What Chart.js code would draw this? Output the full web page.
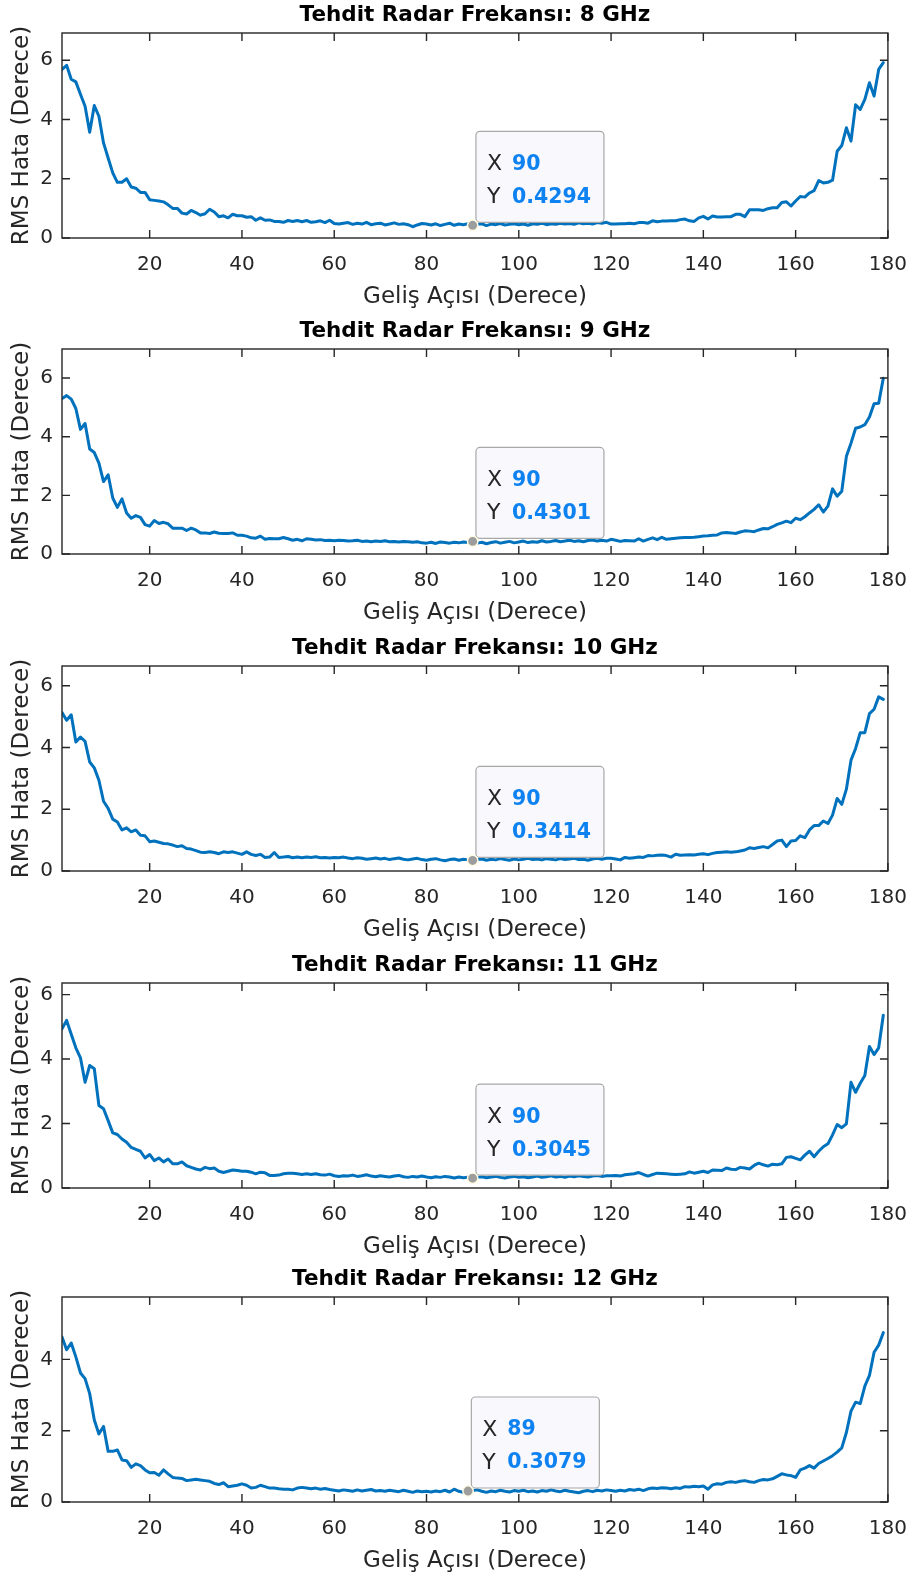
<!DOCTYPE html>
<html>
<head>
<meta charset="utf-8">
<script src="https://cdn.jsdelivr.net/npm/chart.js@4.4.1/dist/chart.umd.min.js"></script>
<style>
html,body{margin:0;padding:0;background:#fff;width:922px;height:1577px;overflow:hidden;}
.wrap{position:absolute;left:0;width:922px;height:316px;}
canvas{display:block;}
</style>
</head>
<body>
<div class="wrap" style="top:0px"><canvas id="c0" width="922" height="316"></canvas></div>
<div class="wrap" style="top:316px"><canvas id="c1" width="922" height="316"></canvas></div>
<div class="wrap" style="top:633px"><canvas id="c2" width="922" height="316"></canvas></div>
<div class="wrap" style="top:950px"><canvas id="c3" width="922" height="316"></canvas></div>
<div class="wrap" style="top:1264px"><canvas id="c4" width="922" height="316"></canvas></div>
<script>
// ---------------- DATA ----------------
const angles = Array.from({length:179}, (_, i) => i + 1); // Geliş açısı 1..179 derece

const rms8 = [
5.69,5.83,5.36,5.27,4.85,4.45,3.57,4.47,4.11,3.21,
2.70,2.20,1.88,1.88,2.00,1.72,1.68,1.54,1.54,1.29,
1.27,1.25,1.22,1.12,1.00,1.00,0.84,0.81,0.93,0.86,
0.77,0.82,0.97,0.88,0.72,0.75,0.68,0.80,0.75,0.75,
0.70,0.72,0.60,0.68,0.60,0.61,0.56,0.56,0.53,0.59,
0.56,0.59,0.55,0.59,0.53,0.55,0.58,0.52,0.60,0.49,
0.47,0.50,0.52,0.46,0.50,0.47,0.53,0.45,0.48,0.50,
0.44,0.47,0.51,0.46,0.48,0.45,0.38,0.44,0.49,0.47,
0.44,0.48,0.42,0.46,0.50,0.43,0.47,0.45,0.48,0.4294,
0.46,0.48,0.42,0.47,0.45,0.49,0.44,0.46,0.48,0.45,
0.47,0.43,0.48,0.46,0.50,0.45,0.48,0.46,0.50,0.47,
0.49,0.46,0.51,0.48,0.50,0.47,0.52,0.50,0.53,0.47,
0.47,0.48,0.48,0.50,0.48,0.52,0.52,0.50,0.58,0.55,
0.57,0.57,0.58,0.58,0.62,0.64,0.58,0.56,0.68,0.73,
0.64,0.74,0.71,0.71,0.72,0.72,0.80,0.80,0.72,0.95,
0.95,0.95,0.93,0.99,1.02,1.02,1.20,1.22,1.08,1.25,
1.40,1.38,1.52,1.60,1.94,1.86,1.88,1.95,2.93,3.12,
3.72,3.27,4.50,4.34,4.68,5.24,4.79,5.69,5.92];

const rms9 = [
5.30,5.40,5.28,4.96,4.25,4.45,3.58,3.46,3.10,2.47,
2.70,1.91,1.59,1.88,1.40,1.22,1.31,1.25,1.00,0.95,
1.14,1.04,1.08,1.03,0.88,0.88,0.88,0.80,0.88,0.82,
0.72,0.72,0.70,0.75,0.71,0.70,0.70,0.72,0.64,0.64,
0.61,0.55,0.54,0.61,0.50,0.53,0.52,0.52,0.56,0.52,
0.47,0.50,0.45,0.52,0.50,0.48,0.49,0.46,0.47,0.45,
0.47,0.46,0.44,0.45,0.47,0.43,0.44,0.42,0.44,0.43,
0.45,0.42,0.43,0.41,0.43,0.42,0.40,0.42,0.38,0.37,
0.40,0.36,0.41,0.39,0.37,0.40,0.38,0.41,0.39,0.4301,
0.37,0.40,0.35,0.39,0.42,0.37,0.40,0.43,0.38,0.41,
0.44,0.39,0.42,0.40,0.45,0.41,0.43,0.46,0.42,0.44,
0.47,0.43,0.45,0.42,0.46,0.48,0.44,0.47,0.44,0.50,
0.47,0.43,0.46,0.45,0.44,0.52,0.44,0.50,0.55,0.49,
0.57,0.50,0.52,0.54,0.55,0.56,0.56,0.57,0.59,0.61,
0.62,0.64,0.65,0.72,0.73,0.72,0.70,0.75,0.79,0.78,
0.76,0.82,0.87,0.86,0.93,1.01,1.06,1.12,1.07,1.22,
1.17,1.27,1.40,1.52,1.68,1.43,1.63,2.22,1.97,2.14,
3.33,3.78,4.29,4.33,4.41,4.67,5.12,5.14,5.99];

const rms10 = [
5.13,4.88,5.06,4.18,4.34,4.20,3.53,3.34,2.94,2.26,
2.03,1.68,1.59,1.33,1.40,1.27,1.33,1.16,1.14,0.95,
0.97,0.93,0.89,0.88,0.84,0.79,0.82,0.73,0.71,0.66,
0.61,0.60,0.62,0.60,0.56,0.62,0.60,0.62,0.58,0.54,
0.62,0.54,0.50,0.54,0.44,0.45,0.60,0.44,0.45,0.47,
0.43,0.45,0.43,0.45,0.44,0.46,0.43,0.44,0.42,0.44,
0.43,0.45,0.42,0.40,0.43,0.41,0.38,0.40,0.42,0.39,
0.41,0.37,0.40,0.42,0.38,0.36,0.39,0.41,0.37,0.35,
0.38,0.40,0.36,0.33,0.37,0.39,0.35,0.38,0.36,0.3414,
0.37,0.39,0.35,0.38,0.36,0.40,0.37,0.35,0.39,0.36,
0.38,0.41,0.37,0.39,0.36,0.40,0.38,0.36,0.40,0.37,
0.39,0.41,0.37,0.38,0.35,0.39,0.41,0.38,0.41,0.41,
0.39,0.36,0.44,0.41,0.43,0.45,0.44,0.50,0.49,0.51,
0.52,0.50,0.45,0.54,0.51,0.52,0.53,0.52,0.54,0.56,
0.53,0.57,0.60,0.61,0.62,0.61,0.62,0.65,0.68,0.75,
0.73,0.76,0.79,0.75,0.86,0.97,1.00,0.79,0.97,0.99,
1.14,1.08,1.33,1.47,1.47,1.62,1.54,1.81,2.35,2.16,
2.65,3.59,3.97,4.48,4.48,5.10,5.24,5.64,5.56];

const rms11 = [
4.94,5.20,4.77,4.35,4.04,3.28,3.80,3.70,2.56,2.46,
2.09,1.71,1.66,1.52,1.42,1.26,1.20,1.14,0.93,1.04,
0.85,0.93,0.81,0.90,0.75,0.75,0.81,0.69,0.64,0.59,
0.56,0.64,0.60,0.62,0.52,0.48,0.52,0.56,0.54,0.52,
0.52,0.49,0.44,0.49,0.47,0.39,0.39,0.40,0.44,0.46,
0.46,0.44,0.42,0.44,0.42,0.44,0.41,0.40,0.43,0.38,
0.36,0.38,0.37,0.40,0.36,0.38,0.41,0.37,0.35,0.38,
0.36,0.34,0.37,0.39,0.35,0.33,0.36,0.34,0.37,0.34,
0.32,0.35,0.33,0.36,0.34,0.31,0.34,0.32,0.33,0.3045,
0.33,0.35,0.32,0.34,0.36,0.33,0.31,0.34,0.36,0.33,
0.35,0.32,0.34,0.37,0.33,0.35,0.38,0.34,0.36,0.33,
0.37,0.35,0.38,0.36,0.34,0.37,0.39,0.36,0.38,0.38,
0.39,0.37,0.41,0.43,0.44,0.48,0.42,0.37,0.42,0.46,
0.45,0.44,0.43,0.42,0.43,0.44,0.50,0.46,0.49,0.52,
0.48,0.56,0.55,0.54,0.62,0.58,0.57,0.64,0.62,0.59,
0.70,0.77,0.72,0.68,0.74,0.72,0.75,0.95,0.97,0.92,
0.87,1.02,1.14,0.97,1.14,1.28,1.37,1.65,1.97,1.87,
1.99,3.28,2.97,3.25,3.49,4.39,4.14,4.35,5.36];

const rms12 = [
4.63,4.27,4.46,4.07,3.62,3.46,3.04,2.30,1.91,2.12,
1.42,1.42,1.46,1.18,1.16,0.97,1.07,1.02,0.90,0.82,
0.83,0.75,0.90,0.79,0.69,0.67,0.66,0.60,0.62,0.64,
0.62,0.60,0.58,0.52,0.49,0.54,0.43,0.45,0.47,0.51,
0.47,0.39,0.41,0.47,0.43,0.39,0.39,0.37,0.36,0.36,
0.34,0.39,0.41,0.39,0.37,0.39,0.36,0.38,0.35,0.33,
0.31,0.34,0.32,0.30,0.34,0.31,0.33,0.35,0.31,0.32,
0.30,0.33,0.31,0.29,0.33,0.30,0.27,0.31,0.29,0.30,
0.28,0.31,0.29,0.33,0.28,0.36,0.30,0.27,0.3079,0.32,
0.34,0.30,0.27,0.31,0.29,0.33,0.30,0.28,0.32,0.30,
0.33,0.29,0.31,0.28,0.32,0.30,0.34,0.31,0.29,0.33,
0.30,0.28,0.26,0.30,0.32,0.29,0.33,0.31,0.34,0.32,
0.30,0.33,0.31,0.35,0.33,0.36,0.32,0.37,0.39,0.38,
0.40,0.39,0.37,0.40,0.38,0.43,0.42,0.44,0.43,0.45,
0.36,0.48,0.51,0.50,0.55,0.57,0.55,0.58,0.60,0.57,
0.55,0.60,0.63,0.62,0.65,0.72,0.79,0.76,0.74,0.69,
0.90,0.95,1.02,0.95,1.08,1.15,1.22,1.30,1.40,1.52,
1.95,2.55,2.80,2.76,3.25,3.55,4.20,4.40,4.75];

const freqs  = ['8 GHz', '9 GHz', '10 GHz', '11 GHz', '12 GHz'];
const series = [rms8, rms9, rms10, rms11, rms12];
const yMax   = [6.92, 6.99, 6.64, 6.36, 5.75];
const xTicks = [20, 40, 60, 80, 100, 120, 140, 160, 180];
const yTicks = [0, 2, 4, 6];
const tipX   = [90, 90, 90, 90, 89];
const tipY   = [0.4294, 0.4301, 0.3414, 0.3045, 0.3079];

const titlePrefix = 'Tehdit Radar Frekansı: ';
const xLabel = 'Geliş Açısı (Derece)';
const yLabel = 'RMS Hata (Derece)';

// ---------------- STYLE ----------------
const FONT = "'DejaVu Sans', sans-serif";
const AX = '#262626';
const LINE = '#0072BD';

const framePlugin = {
  id: 'matlabFrame',
  afterDatasetsDraw(chart) {
    const {ctx, chartArea: a, scales: {x, y}} = chart;
    const tl = 8;
    ctx.save();
    ctx.strokeStyle = AX;
    ctx.lineWidth = 1.4;
    ctx.beginPath();
    x.ticks.forEach(t => {
      const px = x.getPixelForValue(t.value);
      ctx.moveTo(px, a.bottom); ctx.lineTo(px, a.bottom - tl);
      ctx.moveTo(px, a.top); ctx.lineTo(px, a.top + tl);
    });
    y.ticks.forEach(t => {
      const py = y.getPixelForValue(t.value);
      ctx.moveTo(a.left, py); ctx.lineTo(a.left + tl, py);
      ctx.moveTo(a.right, py); ctx.lineTo(a.right - tl, py);
    });
    ctx.stroke();
    ctx.strokeRect(a.left, a.top, a.right - a.left, a.bottom - a.top);
    ctx.restore();
  }
};

function tipPlugin(i) {
  return {
    id: 'dataTip' + i,
    afterDraw(chart) {
      const {ctx, scales: {x, y}} = chart;
      const px = x.getPixelForValue(tipX[i]);
      const py = y.getPixelForValue(tipY[i]);
      const w = 128, h = 91;
      const bx = px + 3.3, by = py - 3 - h;
      ctx.save();
      ctx.beginPath();
      ctx.roundRect(bx, by, w, h, 4);
      ctx.fillStyle = '#f8f8fd';
      ctx.fill();
      ctx.lineWidth = 1.2;
      ctx.strokeStyle = '#a8a8a8';
      ctx.stroke();
      ctx.textBaseline = 'middle';
      ctx.textAlign = 'left';
      ctx.fillStyle = AX;
      ctx.font = '22px ' + FONT;
      ctx.fillText('X', bx + 11, by + 33);
      ctx.fillText('Y', bx + 11, by + 66);
      ctx.fillStyle = '#0f82f2';
      ctx.font = 'bold 20.5px ' + FONT;
      ctx.fillText(String(tipX[i]), bx + 36, by + 33);
      ctx.fillText(String(tipY[i]), bx + 36, by + 66);
      // marker
      ctx.beginPath();
      ctx.arc(px, py, 5.2, 0, Math.PI * 2);
      ctx.fillStyle = '#9d9d9d';
      ctx.fill();
      ctx.lineWidth = 1.5;
      ctx.strokeStyle = '#fffbe2';
      ctx.stroke();
      ctx.restore();
    }
  };
}

series.forEach((vals, i) => {
  const ctx = document.getElementById('c' + i).getContext('2d');
  new Chart(ctx, {
    type: 'line',
    data: {
      datasets: [{
        data: angles.map((a, k) => ({x: a, y: vals[k]})),
        borderColor: LINE,
        borderWidth: 3,
        pointRadius: 0,
        tension: 0,
        fill: false,
        borderJoinStyle: 'round',
        borderCapStyle: 'round'
      }]
    },
    options: {
      responsive: false,
      animation: false,
      events: [],
      layout: {padding: {left: 0, right: 28, top: 0, bottom: 0}},
      plugins: {
        legend: {display: false},
        tooltip: {enabled: false},
        title: {
          display: true,
          text: titlePrefix + freqs[i],
          fullSize: false,
          color: '#000',
          font: {family: FONT, size: 21.5, weight: 'bold', lineHeight: 1.2},
          padding: {top: 3, bottom: 4.2}
        }
      },
      scales: {
        x: {
          type: 'linear',
          min: 1,
          max: 180,
          afterBuildTicks: s => { s.ticks = xTicks.map(v => ({value: v})); },
          afterFit: s => { s.height = 78; },
          grid: {display: false, drawTicks: false},
          border: {display: false},
          ticks: {
            color: AX, padding: 15, maxRotation: 0, autoSkip: false,
            font: {family: FONT, size: 20, lineHeight: 1.2}
          },
          title: {
            display: true, text: xLabel, color: AX,
            font: {family: FONT, size: 23, lineHeight: 1.2},
            padding: {top: 0, bottom: 5}
          }
        },
        y: {
          type: 'linear',
          min: 0,
          max: yMax[i],
          afterBuildTicks: s => { s.ticks = yTicks.filter(v => v <= yMax[i]).map(v => ({value: v})); },
          afterFit: s => { s.width = 62; },
          grid: {display: false, drawTicks: false},
          border: {display: false},
          ticks: {
            color: AX, padding: 9,
            font: {family: FONT, size: 20, lineHeight: 1.2}
          },
          title: {
            display: true, text: yLabel, color: AX,
            font: {family: FONT, size: 23, lineHeight: 1.2},
            padding: {top: 8.5, bottom: 0}
          }
        }
      }
    },
    plugins: [framePlugin, tipPlugin(i)]
  });
});
</script>
</body>
</html>
